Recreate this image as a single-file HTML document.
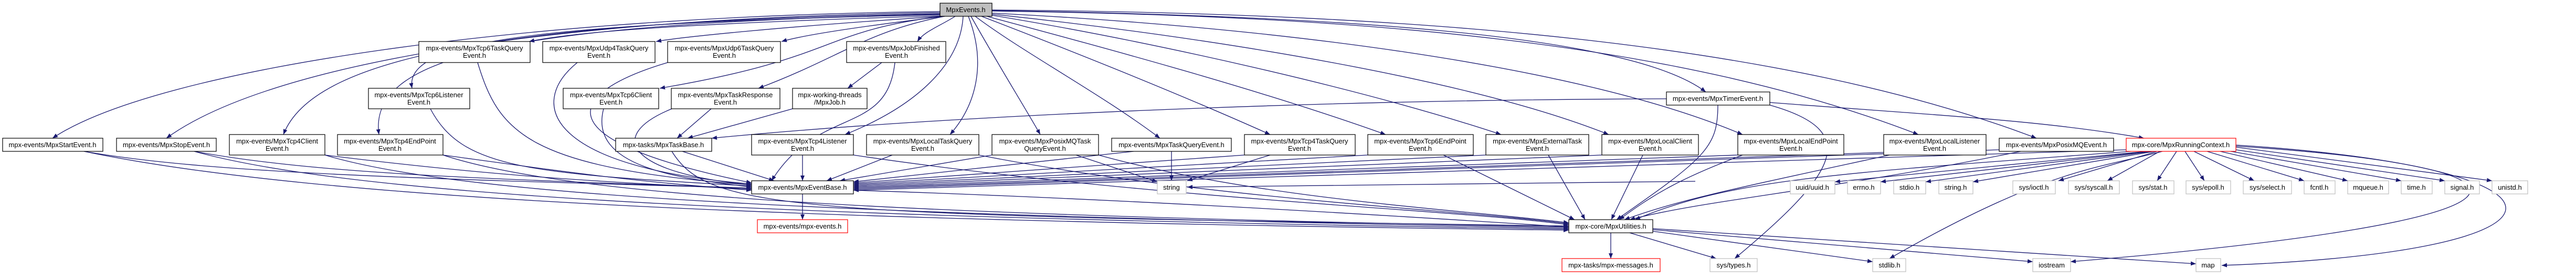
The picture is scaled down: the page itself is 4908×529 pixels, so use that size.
<!DOCTYPE html>
<html><head><meta charset="utf-8"><style>
html,body{margin:0;padding:0;background:#fff;}
svg{display:block;}
text{font-family:"Liberation Sans",Arial,sans-serif;font-size:13px;fill:#000;text-anchor:middle;}
.e{fill:none;stroke:#191970;stroke-width:1.3;marker-end:url(#a);}
.n{fill:#fff;stroke:#000;stroke-width:1.2;}
.g{fill:#fff;stroke:#bfbfbf;stroke-width:1.2;}
.r{fill:#fff;stroke:#ff0000;stroke-width:1.2;}
.c{fill:#bfbfbf;stroke:#000;stroke-width:1.2;}
</style></head><body>
<svg width="4908" height="529" viewBox="0 0 4908 529" xmlns="http://www.w3.org/2000/svg">
<defs><marker id="a" markerUnits="userSpaceOnUse" markerWidth="11" markerHeight="8" refX="10" refY="4" orient="auto"><path d="M0,0 L10,4 L0,8 z" fill="#191970"/></marker></defs>
<g>
<!-- from MpxEvents -->
<path class="e" d="M1791,22 C1000,30 300,130 100,263"/>
<path class="e" d="M1791,24 C1000,35 500,130 317,263"/>
<path class="e" d="M1791,26 C1000,40 600,100 540,256"/>
<path class="e" d="M1791,27 C1000,45 700,100 722,256"/>
<path class="e" d="M1791,28 C1000,45 770,80 785,168"/>
<path class="e" d="M1791,30 C1300,45 1100,60 1008,79"/>
<path class="e" d="M1795,31 C1500,50 1300,70 1250,79"/>
<path class="e" d="M1800,31 C1600,55 1520,70 1489,79"/>
<path class="e" d="M1820,31 C1790,50 1760,60 1748,79"/>
<path class="e" d="M1795,31 C1560,60 1600,110 1257,168"/>
<path class="e" d="M1800,31 C1650,60 1600,110 1445,168"/>
<path class="e" d="M1835,31 C1830,120 1750,200 1610,256"/>
<path class="e" d="M1845,31 C1880,120 1860,200 1810,256"/>
<path class="e" d="M1850,31 C1900,120 1950,200 1982,256"/>
<path class="e" d="M1858,31 C1950,100 2100,180 2210,263"/>
<path class="e" d="M1870,31 C2050,100 2250,180 2420,256"/>
<path class="e" d="M1880,31 C2100,90 2400,170 2640,256"/>
<path class="e" d="M1890,29 C2200,80 2600,170 2860,256"/>
<path class="e" d="M1890,27 C2300,70 2800,150 3065,256"/>
<path class="e" d="M1890,25 C2400,50 3000,120 3320,256"/>
<path class="e" d="M1890,20 C2500,30 3100,60 3250,175"/>
<path class="e" d="M1890,21 C2600,30 3200,80 3655,256"/>
<path class="e" d="M1890,19 C2700,25 3400,80 3880,263"/>
<!-- row2/3 down -->
<path class="e" d="M910,119 C950,250 1000,320 1432,352"/>
<path class="e" d="M1100,119 C1000,200 1050,320 1432,350"/>
<path class="e" d="M1272,119 C1100,170 1000,260 1432,348"/>
<path class="e" d="M1680,119 L1615,168"/>
<path class="e" d="M1705,119 C1690,260 1560,200 1470,344"/>
<path class="e" d="M820,207 C880,320 1000,330 1432,354"/>
<path class="e" d="M1150,207 C1120,320 1300,340 1432,356"/>
<path class="e" d="M1355,207 L1290,263"/>
<path class="e" d="M1280,207 C1150,260 1200,330 1432,352"/>
<path class="e" d="M1510,207 L1310,263"/>
<path class="e" d="M3175,188 C2500,190 1800,220 1356,263"/>
<path class="e" d="M3273,200 C3273,280 3250,300 3080,418"/>
<path class="e" d="M3372,200 C3550,250 3500,330 3305,492"/>
<path class="e" d="M3372,195 C3700,220 3900,230 4085,263"/>
<!-- row4 to EB / MU -->
<path class="e" d="M160,288 C400,330 800,340 1432,358"/>
<path class="e" d="M160,288 C600,380 1500,420 2989,438"/>
<path class="e" d="M370,288 C600,330 900,340 1432,358"/>
<path class="e" d="M370,288 C700,380 1600,415 2989,436"/>
<path class="e" d="M619,295 C900,330 1100,345 1432,360"/>
<path class="e" d="M619,295 C900,380 1700,410 2989,434"/>
<path class="e" d="M844,295 C1100,330 1200,345 1432,362"/>
<path class="e" d="M844,295 C1100,380 1800,410 2989,432"/>
<path class="e" d="M1300,288 L1475,344"/>
<path class="e" d="M1280,288 C1350,400 1500,410 2989,430"/>
<path class="e" d="M1529,295 L1529,344"/>
<path class="e" d="M1626,295 C2200,380 2800,400 2989,428"/>
<path class="e" d="M1700,295 L1575,344"/>
<path class="e" d="M1865,295 C2300,380 2800,400 2989,426"/>
<path class="e" d="M1890,295 L1600,344"/>
<path class="e" d="M2050,295 L2205,346"/>
<path class="e" d="M2093,295 C2400,380 2800,400 2989,424"/>
<path class="e" d="M2232,288 L2232,344"/>
<path class="e" d="M2160,288 L1626,346"/>
<path class="e" d="M2371,295 L1626,348"/>
<path class="e" d="M2420,295 L2262,344"/>
<path class="e" d="M2606,295 L1626,350"/>
<path class="e" d="M2750,295 L3000,418"/>
<path class="e" d="M2831,295 L1626,352"/>
<path class="e" d="M2950,295 L3020,418"/>
<path class="e" d="M3052,295 L1626,354"/>
<path class="e" d="M3130,295 L3070,418"/>
<path class="e" d="M3311,295 L1626,356"/>
<path class="e" d="M3320,295 C3200,340 3150,370 3085,418"/>
<path class="e" d="M3589,290 L1626,358"/>
<path class="e" d="M3600,295 C3300,360 3200,380 3095,418"/>
<path class="e" d="M3809,285 L1626,360"/>
<path class="e" d="M3850,288 C3500,360 3250,380 3105,418"/>
<path class="e" d="M3230,345 L2262,356"/>
<!-- from RunningContext -->
<path class="e" d="M4051,285 L1626,362"/>
<path class="e" d="M4060,288 C3500,330 3300,340 3115,418"/>
<path class="e" d="M4090,288 L3496,346"/>
<path class="e" d="M4095,288 L3583,346"/>
<path class="e" d="M4100,288 L3669,346"/>
<path class="e" d="M4105,288 L3759,346"/>
<path class="e" d="M4110,288 L3922,344"/>
<path class="e" d="M4115,288 L4015,344"/>
<path class="e" d="M4147,288 L4110,344"/>
<path class="e" d="M4163,288 L4200,344"/>
<path class="e" d="M4180,288 L4295,344"/>
<path class="e" d="M4205,288 L4390,344"/>
<path class="e" d="M4230,288 L4473,344"/>
<path class="e" d="M4250,288 L4575,344"/>
<path class="e" d="M4260,285 L4658,344"/>
<path class="e" d="M4260,280 L4748,344"/>
<path class="e" d="M4120,288 C4000,320 3900,320 3600,492"/>
<path class="e" d="M4260,278 C4900,320 4900,420 3945,498"/>
<path class="e" d="M4260,276 C4950,320 4950,480 4233,505"/>
<!-- EB / MU -->
<path class="e" d="M1529,369 L1529,418"/>
<path class="e" d="M1626,362 C2200,380 2800,420 2989,432"/>
<path class="e" d="M3069,443 L3069,492"/>
<path class="e" d="M3105,443 L3270,492"/>
<path class="e" d="M3149,440 L3568,498"/>
<path class="e" d="M3149,437 L3873,498"/>
<path class="e" d="M3149,435 L4184,502"/>
</g>
<g>
<rect class="c" x="1791" y="6" width="99" height="25"/><text x="1840" y="23">MpxEvents.h</text>
<rect class="n" x="798" y="79" width="212" height="40"/><text x="904" y="96">mpx-events/MpxTcp6TaskQuery</text><text x="904" y="110">Event.h</text>
<rect class="n" x="1034" y="79" width="214" height="40"/><text x="1141" y="96">mpx-events/MpxUdp4TaskQuery</text><text x="1141" y="110">Event.h</text>
<rect class="n" x="1272" y="79" width="215" height="40"/><text x="1380" y="96">mpx-events/MpxUdp6TaskQuery</text><text x="1380" y="110">Event.h</text>
<rect class="n" x="1613" y="79" width="189" height="40"/><text x="1708" y="96">mpx-events/MpxJobFinished</text><text x="1708" y="110">Event.h</text>
<rect class="n" x="702" y="168" width="193" height="39"/><text x="798" y="185">mpx-events/MpxTcp6Listener</text><text x="798" y="199">Event.h</text>
<rect class="n" x="1073" y="168" width="182" height="39"/><text x="1164" y="185">mpx-events/MpxTcp6Client</text><text x="1164" y="199">Event.h</text>
<rect class="n" x="1279" y="168" width="207" height="39"/><text x="1382" y="185">mpx-events/MpxTaskResponse</text><text x="1382" y="199">Event.h</text>
<rect class="n" x="1510" y="168" width="142" height="39"/><text x="1581" y="185">mpx-working-threads</text><text x="1581" y="199">/MpxJob.h</text>
<rect class="n" x="3175" y="175" width="197" height="25"/><text x="3273" y="192">mpx-events/MpxTimerEvent.h</text>
<rect class="n" x="5" y="263" width="191" height="25"/><text x="100" y="280">mpx-events/MpxStartEvent.h</text>
<rect class="n" x="222" y="263" width="190" height="25"/><text x="317" y="280">mpx-events/MpxStopEvent.h</text>
<rect class="n" x="437" y="256" width="182" height="39"/><text x="528" y="273">mpx-events/MpxTcp4Client</text><text x="528" y="287">Event.h</text>
<rect class="n" x="643" y="256" width="201" height="39"/><text x="743" y="273">mpx-events/MpxTcp4EndPoint</text><text x="743" y="287">Event.h</text>
<rect class="n" x="1173" y="263" width="183" height="25"/><text x="1264" y="280">mpx-tasks/MpxTaskBase.h</text>
<rect class="n" x="1432" y="256" width="194" height="39"/><text x="1529" y="273">mpx-events/MpxTcp4Listener</text><text x="1529" y="287">Event.h</text>
<rect class="n" x="1651" y="256" width="214" height="39"/><text x="1758" y="273">mpx-events/MpxLocalTaskQuery</text><text x="1758" y="287">Event.h</text>
<rect class="n" x="1890" y="256" width="203" height="39"/><text x="1991" y="273">mpx-events/MpxPosixMQTask</text><text x="1991" y="287">QueryEvent.h</text>
<rect class="n" x="2118" y="263" width="228" height="25"/><text x="2232" y="280">mpx-events/MpxTaskQueryEvent.h</text>
<rect class="n" x="2371" y="256" width="211" height="39"/><text x="2476" y="273">mpx-events/MpxTcp4TaskQuery</text><text x="2476" y="287">Event.h</text>
<rect class="n" x="2606" y="256" width="201" height="39"/><text x="2706" y="273">mpx-events/MpxTcp6EndPoint</text><text x="2706" y="287">Event.h</text>
<rect class="n" x="2831" y="256" width="196" height="39"/><text x="2929" y="273">mpx-events/MpxExternalTask</text><text x="2929" y="287">Event.h</text>
<rect class="n" x="3052" y="256" width="184" height="39"/><text x="3144" y="273">mpx-events/MpxLocalClient</text><text x="3144" y="287">Event.h</text>
<rect class="n" x="3311" y="256" width="202" height="39"/><text x="3412" y="273">mpx-events/MpxLocalEndPoint</text><text x="3412" y="287">Event.h</text>
<rect class="n" x="3589" y="256" width="195" height="39"/><text x="3686" y="273">mpx-events/MpxLocalListener</text><text x="3686" y="287">Event.h</text>
<rect class="n" x="3809" y="263" width="218" height="25"/><text x="3918" y="280">mpx-events/MpxPosixMQEvent.h</text>
<rect class="r" x="4051" y="263" width="209" height="25"/><text x="4155" y="280">mpx-core/MpxRunningContext.h</text>
<rect class="n" x="1432" y="344" width="194" height="25"/><text x="1529" y="361">mpx-events/MpxEventBase.h</text>
<rect class="g" x="2205" y="344" width="55" height="25"/><text x="2232" y="361">string</text>
<rect class="g" x="3411" y="344" width="85" height="25"/><text x="3453" y="361">uuid/uuid.h</text>
<rect class="g" x="3520" y="344" width="63" height="25"/><text x="3551" y="361">errno.h</text>
<rect class="g" x="3608" y="344" width="61" height="25"/><text x="3638" y="361">stdio.h</text>
<rect class="g" x="3694" y="344" width="65" height="25"/><text x="3726" y="361">string.h</text>
<rect class="g" x="3835" y="344" width="81" height="25"/><text x="3875" y="361">sys/ioctl.h</text>
<rect class="g" x="3941" y="344" width="97" height="25"/><text x="3989" y="361">sys/syscall.h</text>
<rect class="g" x="4063" y="344" width="79" height="25"/><text x="4102" y="361">sys/stat.h</text>
<rect class="g" x="4165" y="344" width="85" height="25"/><text x="4207" y="361">sys/epoll.h</text>
<rect class="g" x="4274" y="344" width="92" height="25"/><text x="4320" y="361">sys/select.h</text>
<rect class="g" x="4390" y="344" width="59" height="25"/><text x="4419" y="361">fcntl.h</text>
<rect class="g" x="4473" y="344" width="78" height="25"/><text x="4512" y="361">mqueue.h</text>
<rect class="g" x="4575" y="344" width="59" height="25"/><text x="4604" y="361">time.h</text>
<rect class="g" x="4658" y="344" width="66" height="25"/><text x="4691" y="361">signal.h</text>
<rect class="g" x="4748" y="344" width="68" height="25"/><text x="4782" y="361">unistd.h</text>
<rect class="r" x="1443" y="418" width="172" height="25"/><text x="1529" y="435">mpx-events/mpx-events.h</text>
<rect class="n" x="2989" y="418" width="160" height="25"/><text x="3069" y="435">mpx-core/MpxUtilities.h</text>
<rect class="r" x="2976" y="492" width="187" height="25"/><text x="3069" y="509">mpx-tasks/mpx-messages.h</text>
<rect class="g" x="3258" y="492" width="90" height="25"/><text x="3303" y="509">sys/types.h</text>
<rect class="g" x="3568" y="492" width="63" height="25"/><text x="3600" y="509">stdlib.h</text>
<rect class="g" x="3873" y="492" width="72" height="25"/><text x="3909" y="509">iostream</text>
<rect class="g" x="4184" y="492" width="47" height="25"/><text x="4207" y="509">map</text>
</g>
</svg>
</body></html>
